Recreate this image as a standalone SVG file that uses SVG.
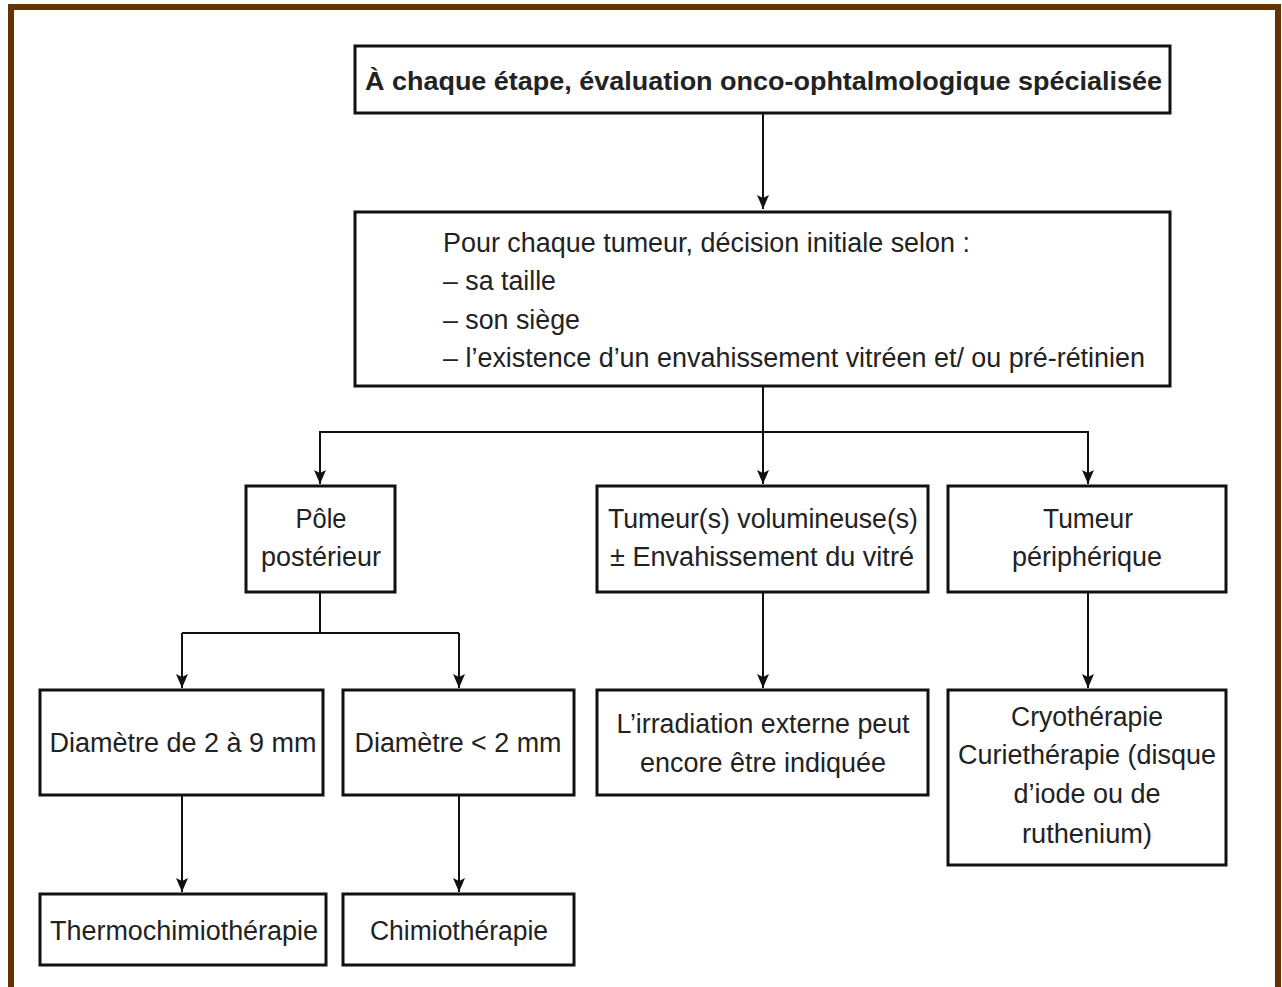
<svg xmlns="http://www.w3.org/2000/svg" width="1282" height="987" viewBox="0 0 1282 987">
<defs>
<marker id="ah" markerUnits="userSpaceOnUse" markerWidth="14" markerHeight="12" refX="14" refY="6" orient="auto" viewBox="0 0 14 12">
<path d="M0,0 L14,6 L0,12 L3,6 Z" fill="#111"/>
</marker>
<style>
.box{fill:#fff;stroke:#111;stroke-width:3}
.t{font-family:"Liberation Sans",Arial,sans-serif;font-size:27px;fill:#222}
.c{text-anchor:middle}
.ln{fill:none;stroke:#111;stroke-width:2}
.ar{fill:none;stroke:#111;stroke-width:2;marker-end:url(#ah)}
</style>
</defs>
<rect x="0" y="0" width="1282" height="987" fill="#fff"/>
<rect x="11" y="7" width="1267" height="1010" fill="none" stroke="#663300" stroke-width="6"/>

<g id="connectors">
<line class="ar" x1="763" y1="113" x2="763" y2="209"/>
<line class="ln" x1="763" y1="386" x2="763" y2="432"/>
<polyline class="ln" points="320,475 320,432 1088,432 1088,475"/>
<line class="ar" x1="320" y1="432" x2="320" y2="484"/>
<line class="ar" x1="763" y1="432" x2="763" y2="484"/>
<line class="ar" x1="1088" y1="432" x2="1088" y2="484"/>
<line class="ln" x1="320" y1="592" x2="320" y2="633"/>
<polyline class="ln" points="182,633 459,633"/>
<line class="ar" x1="182" y1="633" x2="182" y2="688"/>
<line class="ar" x1="459" y1="633" x2="459" y2="688"/>
<line class="ar" x1="763" y1="592" x2="763" y2="688"/>
<line class="ar" x1="1088" y1="592" x2="1088" y2="688"/>
<line class="ar" x1="182" y1="795" x2="182" y2="892"/>
<line class="ar" x1="459" y1="795" x2="459" y2="892"/>
</g>

<g id="n-top">
<rect class="box" x="355" y="46" width="815" height="67"/>
<text class="t" x="365" y="90" textLength="797" lengthAdjust="spacingAndGlyphs" style="font-weight:bold;font-size:26px">À chaque étape, évaluation onco-ophtalmologique spécialisée</text>
</g>

<g id="n-decision">
<rect class="box" x="355" y="212" width="815" height="174"/>
<text class="t" x="443" y="252" textLength="527" lengthAdjust="spacingAndGlyphs">Pour chaque tumeur, décision initiale selon :</text>
<text class="t" x="443" y="290" textLength="113" lengthAdjust="spacingAndGlyphs">– sa taille</text>
<text class="t" x="443" y="329" textLength="137" lengthAdjust="spacingAndGlyphs">– son siège</text>
<text class="t" x="443" y="367" textLength="702" lengthAdjust="spacingAndGlyphs">– l’existence d’un envahissement vitréen et/ ou pré-rétinien</text>
</g>

<g id="n-pole">
<rect class="box" x="246" y="486" width="149" height="106"/>
<text class="t c" x="321" y="528" textLength="51" lengthAdjust="spacingAndGlyphs">Pôle</text>
<text class="t c" x="321" y="566" textLength="120" lengthAdjust="spacingAndGlyphs">postérieur</text>
</g>

<g id="n-volum">
<rect class="box" x="597" y="486" width="331" height="106"/>
<text class="t c" x="763" y="528" textLength="310" lengthAdjust="spacingAndGlyphs">Tumeur(s) volumineuse(s)</text>
<text class="t c" x="762" y="566" textLength="304" lengthAdjust="spacingAndGlyphs">± Envahissement du vitré</text>
</g>

<g id="n-periph">
<rect class="box" x="948" y="486" width="278" height="106"/>
<text class="t c" x="1088" y="528" textLength="90" lengthAdjust="spacingAndGlyphs">Tumeur</text>
<text class="t c" x="1087" y="566" textLength="150" lengthAdjust="spacingAndGlyphs">périphérique</text>
</g>

<g id="n-d29">
<rect class="box" x="40" y="690" width="283" height="105"/>
<text class="t c" x="183" y="752" textLength="267" lengthAdjust="spacingAndGlyphs">Diamètre de 2 à 9 mm</text>
</g>

<g id="n-d2">
<rect class="box" x="343" y="690" width="231" height="105"/>
<text class="t c" x="458" y="752" textLength="207" lengthAdjust="spacingAndGlyphs">Diamètre &lt; 2 mm</text>
</g>

<g id="n-irrad">
<rect class="box" x="597" y="690" width="331" height="105"/>
<text class="t c" x="763" y="733" textLength="293" lengthAdjust="spacingAndGlyphs">L’irradiation externe peut</text>
<text class="t c" x="763" y="772" textLength="246" lengthAdjust="spacingAndGlyphs">encore être indiquée</text>
</g>

<g id="n-cryo">
<rect class="box" x="948" y="690" width="278" height="175"/>
<text class="t c" x="1087" y="726" textLength="152" lengthAdjust="spacingAndGlyphs">Cryothérapie</text>
<text class="t c" x="1087" y="764" textLength="258" lengthAdjust="spacingAndGlyphs">Curiethérapie (disque</text>
<text class="t c" x="1087" y="803" textLength="147" lengthAdjust="spacingAndGlyphs">d’iode ou de</text>
<text class="t c" x="1087" y="843" textLength="130" lengthAdjust="spacingAndGlyphs">ruthenium)</text>
</g>

<g id="n-thermo">
<rect class="box" x="40" y="894" width="286" height="71"/>
<text class="t c" x="184" y="940" textLength="268" lengthAdjust="spacingAndGlyphs">Thermochimiothérapie</text>
</g>

<g id="n-chimio">
<rect class="box" x="343" y="894" width="231" height="71"/>
<text class="t c" x="459" y="940" textLength="178" lengthAdjust="spacingAndGlyphs">Chimiothérapie</text>
</g>
</svg>
